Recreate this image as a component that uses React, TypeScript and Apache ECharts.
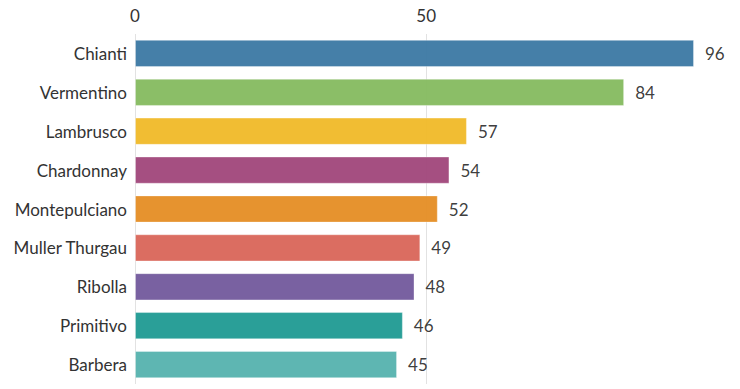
import React, { useEffect, useRef } from "react";
import * as echarts from "echarts";

const categories = ["Chianti", "Vermentino", "Lambrusco", "Chardonnay", "Montepulciano", "Muller Thurgau", "Ribolla", "Primitivo", "Barbera"];
const values = [96, 84, 57, 54, 52, 49, 48, 46, 45];
const colors = ["#3b78a3", "#85ba5f", "#f0b928", "#a0467a", "#e58d24", "#d96558", "#72589c", "#1f9a92", "#55b2ae"];
const xTicks = [0, 50];

export default function App() {
  const ref = useRef<HTMLDivElement>(null);
  useEffect(() => {
    const chart = echarts.init(ref.current!, null, { renderer: "svg" });
    const font = "Lato, 'Source Sans Pro', sans-serif";
    chart.setOption({
      animation: false,
      grid: { left: 135, right: 46, top: 34, bottom: 5 },
      xAxis: {
        type: "value",
        position: "top",
        min: 0,
        max: 96,
        interval: 50,
        axisLine: { show: false },
        axisTick: { show: false },
        axisLabel: {
          color: "#333",
          fontSize: 17,
          fontFamily: font,
          margin: 10,
          formatter: (v: number) => (xTicks.includes(v) ? String(v) : ""),
        },
        splitLine: { show: true, lineStyle: { color: ["#e2e2e2", "#e2e2e2", "rgba(0,0,0,0)"], width: 1 } },
      },
      yAxis: {
        type: "category",
        data: categories,
        inverse: true,
        axisLine: { show: false },
        axisTick: { show: false },
        axisLabel: { color: "#333", fontSize: 17, fontFamily: font, margin: 8 },
      },
      series: [
        {
          type: "bar",
          data: values.map((v, i) => ({ value: v, itemStyle: { color: colors[i] } })),
          barCategoryGap: "30%",
          itemStyle: { opacity: 0.95, borderColor: "rgba(255,255,255,0.35)", borderWidth: 1 },
          label: {
            show: true,
            position: "right",
            distance: 11,
            color: "#333",
            fontSize: 17,
            fontFamily: font,
          },
          z: 1,
        },
      ],
    });
    return () => chart.dispose();
  }, []);
  return <div ref={ref} style={{ width: 740, height: 389, position: "absolute", left: 0, top: 0 }} />;
}
